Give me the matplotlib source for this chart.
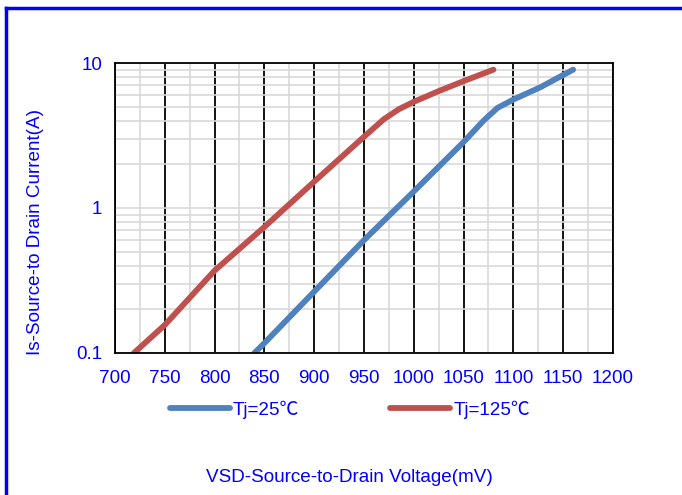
import matplotlib.pyplot as plt
from matplotlib.lines import Line2D
from matplotlib.ticker import FixedLocator, LogLocator, NullFormatter
import numpy as np

# forward diode curves
vsd_25 = [840, 850, 900, 950, 1000, 1050, 1070, 1084, 1100, 1127, 1160]
is_25 = [0.1, 0.117, 0.265, 0.6, 1.3, 2.85, 4.0, 4.9, 5.6, 6.8, 9.0]

vsd_125 = [719, 750, 800, 850, 900, 950, 970, 985, 1000, 1025, 1050, 1080]
is_125 = [0.1, 0.156, 0.37, 0.74, 1.52, 3.1, 4.1, 4.8, 5.4, 6.4, 7.5, 9.0]

x_ticks = [700, 750, 800, 850, 900, 950, 1000, 1050, 1100, 1150, 1200]
y_ticks = [0.1, 1, 10]
y_labels = ["0.1", "1", "10"]

fonts = ["Liberation Sans", "Noto Sans CJK SC", "DejaVu Sans"]
plt.rcParams["font.family"] = fonts
txt_blue = "#0000FF"
fs = 13.6

fig = plt.figure(figsize=(6.82, 4.95), dpi=100)
ax = fig.add_axes([0.1686, 0.2869, 0.7302, 0.5858])

ax.set_xlim(700, 1200)
ax.set_yscale("log")
ax.set_ylim(0.1, 10)

# gridlines: light gray every 25 mV and at log minor ticks, black every 50 mV
ax.xaxis.set_minor_locator(FixedLocator(np.arange(725, 1200, 50)))
ax.yaxis.set_minor_locator(LogLocator(base=10, subs=np.arange(2, 10)))
ax.yaxis.set_minor_formatter(NullFormatter())
ax.grid(True, which="minor", axis="both", color="#D9D9D9", lw=1.2)
ax.grid(True, which="major", axis="y", color="#D9D9D9", lw=1.2)
ax.grid(True, which="major", axis="x", color="black", lw=1.3)
ax.set_axisbelow(True)

ax.set_xticks(x_ticks)
ax.set_xticklabels([str(v) for v in x_ticks])
ax.set_yticks(y_ticks)
ax.set_yticklabels(y_labels)
ax.tick_params(which="both", length=0, labelsize=fs, labelcolor=txt_blue)
ax.tick_params(axis="y", pad=9)
ax.tick_params(axis="x", pad=12)

for s in ax.spines.values():
    s.set_color("black")
    s.set_linewidth(1.3)

ax.plot(vsd_25, is_25, color="#4F81BD", lw=4.2, solid_capstyle="round",
        solid_joinstyle="round", label="Tj=25℃")
ax.plot(vsd_125, is_125, color="#C0504D", lw=4.2, solid_capstyle="round",
        solid_joinstyle="round", label="Tj=125℃")

ax.set_ylabel("Is-Source-to Drain Current(A)", color=txt_blue, fontsize=fs)
ax.yaxis.set_label_coords(-0.1426, 0.417)
fig.text(0.513, 0.035, "VSD-Source-to-Drain Voltage(mV)", color=txt_blue,
         fontsize=fs, ha="center", va="center")

leg = fig.legend(loc="center", bbox_to_anchor=(0.513, 0.172), ncol=2,
                 frameon=False, fontsize=fs, handlelength=3.2,
                 handletextpad=0.15, columnspacing=4.8)
for t in leg.get_texts():
    t.set_color(txt_blue)

# blue frame (top and left edges visible)
fig.add_artist(Line2D([0.009, 1.0], [0.984, 0.984], color="#0000FF", lw=2.5,
                      transform=fig.transFigure))
fig.add_artist(Line2D([0.009, 0.009], [0.0, 0.984], color="#0000FF", lw=2.5,
                      transform=fig.transFigure))

fig.savefig("out.png", dpi=100)
